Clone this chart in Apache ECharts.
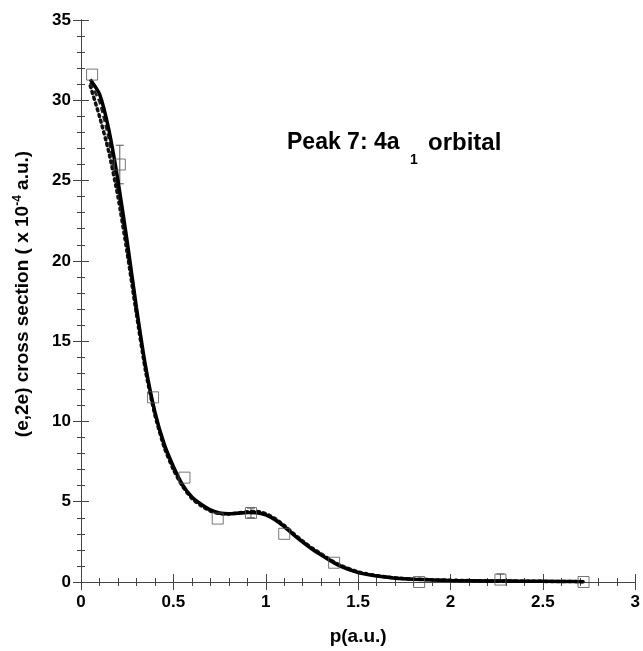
<!DOCTYPE html>
<html><head><meta charset="utf-8">
<script src="https://cdn.jsdelivr.net/npm/echarts@6/dist/echarts.min.js"></script>
<style>html,body{margin:0;padding:0;background:#fff;}#c{width:643px;height:651px;}</style>
</head><body><div id="c"></div>
<script>
const pTheory = [0.05,0.1,0.15,0.2,0.25,0.3,0.35,0.4,0.45,0.5,0.55,0.6,0.65,0.7,0.75,0.8,0.85,0.9,0.95,1.0,1.05,1.1,1.15,1.2,1.25,1.3,1.35,1.4,1.5,1.6,1.7,1.8,1.9,2.0,2.2,2.4,2.6,2.72];
const solidVals = [31.3,30.4,28.2,25.0,21.2,17.1,13.4,10.6,8.6,7.2,6.05,5.3,4.85,4.5,4.3,4.25,4.28,4.33,4.32,4.18,3.88,3.45,2.95,2.48,2.05,1.68,1.32,1.0,0.58,0.37,0.24,0.17,0.13,0.1,0.07,0.05,0.03,0.02];
const dashVals = [31.1,29.9,27.6,24.4,20.7,16.8,13.2,10.5,8.5,7.1,6.0,5.25,4.8,4.45,4.28,4.25,4.3,4.36,4.36,4.22,3.92,3.5,3.0,2.52,2.1,1.72,1.36,1.04,0.62,0.4,0.26,0.18,0.14,0.11,0.07,0.05,0.03,0.02];
const dotVals = [30.9,29.0,26.8,24.0,20.5,16.7,13.1,10.4,8.4,7.0,5.95,5.2,4.75,4.42,4.26,4.24,4.3,4.38,4.4,4.25,3.95,3.52,3.02,2.55,2.12,1.75,1.38,1.06,0.63,0.4,0.26,0.18,0.14,0.11,0.07,0.05,0.03,0.02];
const pExp = [0.06,0.21,0.39,0.56,0.74,0.92,1.10,1.37,1.83,2.27,2.72];
const expVals = [31.6,26.0,11.5,6.5,3.95,4.3,3.0,1.2,0.0,0.15,0.0];
const errLow = [31.6,24.8,11.5,6.5,3.95,4.0,3.0,1.2,0.0,0.0,0.0];
const errHigh = [31.6,27.2,11.5,6.5,3.95,4.6,3.0,1.2,0.0,0.5,0.0];
const xTicks = [0,0.5,1,1.5,2,2.5,3];
const yTicks = [0,5,10,15,20,25,30,35];

const zip = (a,b) => a.map((v,i)=>[v,b[i]]);
const font = '"Liberation Sans", Arial, sans-serif';
function ax(pos, interval, max, len, showLine, extra){
  const o = {type:'value',min:0,max:max,interval:interval,position:pos,
    axisLine:{show:showLine,lineStyle:{color:'#444',width:1}},
    axisTick:{show:true,inside:true,length:len,lineStyle:{color:'#444',width:1}},
    splitLine:{show:false},axisLabel:{show:false}};
  if(extra) Object.assign(o,extra);
  return o;
}
const chart = echarts.init(document.getElementById('c'));
chart.setOption({
  backgroundColor:'#fff',
  animation:false,
  grid:{left:81,right:5,top:20,bottom:66},
  xAxis:[
    ax('bottom',0.5,3,8,true,{
      axisLabel:{show:true,fontFamily:font,fontWeight:'bold',fontSize:17,color:'#000',margin:12,
        formatter:v=>xTicks.includes(v)?String(v):''},
      name:'p(a.u.)',nameLocation:'middle',nameGap:45,
      nameTextStyle:{fontFamily:font,fontWeight:'bold',fontSize:19,color:'#000'}}),
    ax('top',0.5,3,8,true),
    ax('bottom',0.1,3,4,false),
    ax('top',0.1,3,4,false)
  ],
  yAxis:[
    ax('left',5,35,8,true,{
      axisLabel:{show:true,fontFamily:font,fontWeight:'bold',fontSize:17,color:'#000',margin:10,
        formatter:v=>yTicks.includes(v)?String(v):''}}),
    ax('right',5,35,8,true),
    ax('left',1,35,4,false),
    ax('right',1,35,4,false)
  ],
  graphic:[
    {type:'text',x:23,y:294,rotation:Math.PI/2,
      style:{text:'{t|(e,2e) cross section ( x 10}{s|-4}{t| a.u.)}',align:'center',verticalAlign:'middle',
        rich:{t:{fontFamily:font,fontWeight:'bold',fontSize:19,fill:'#000'},
              s:{fontFamily:font,fontWeight:'bold',fontSize:12,fill:'#000',padding:[0,0,10,0]}}}},
    {type:'text',x:287,y:143,style:{text:'Peak 7: 4a',fontFamily:font,fontWeight:'bold',fontSize:23,fill:'#000',align:'left',verticalAlign:'middle'}},
    {type:'text',x:410,y:160,style:{text:'1',fontFamily:font,fontWeight:'bold',fontSize:14,fill:'#000',align:'left',verticalAlign:'middle'}},
    {type:'text',x:428,y:143,style:{text:'orbital',fontFamily:font,fontWeight:'bold',fontSize:24,fill:'#000',align:'left',verticalAlign:'middle'}}
  ],
  series:[
    {type:'line',name:'dotted',data:zip(pTheory,dotVals),smooth:0.2,symbol:'none',
      lineStyle:{color:'#111',width:3.5,type:[2,4],cap:'round'}},
    {type:'line',name:'dashed',data:zip(pTheory,dashVals),smooth:0.2,symbol:'none',
      lineStyle:{color:'#222',width:2.5,type:[6,3]}},
    {type:'line',name:'solid',data:zip(pTheory,solidVals),smooth:0.2,symbol:'none',
      lineStyle:{color:'#000',width:3.5}},
    {type:'custom',name:'err',data:pExp.map((p,i)=>[p,errLow[i],errHigh[i]]),
      renderItem:function(params,api){
        const lo=api.value(1),hi=api.value(2);
        if(hi<=lo) return null;
        const a=api.coord([api.value(0),lo]),b=api.coord([api.value(0),hi]);
        const st={stroke:'#555',lineWidth:1};
        return {type:'group',children:[
          {type:'line',shape:{x1:a[0],y1:a[1],x2:b[0],y2:b[1]},style:st},
          {type:'line',shape:{x1:a[0]-4,y1:a[1],x2:a[0]+4,y2:a[1]},style:st},
          {type:'line',shape:{x1:b[0]-4,y1:b[1],x2:b[0]+4,y2:b[1]},style:st}
        ]};
      },z:3},
    {type:'scatter',name:'exp',data:zip(pExp,expVals),symbol:'rect',symbolSize:11,
      itemStyle:{color:'rgba(0,0,0,0)',borderColor:'#555',borderWidth:1},z:4}
  ]
});
</script></body></html>
